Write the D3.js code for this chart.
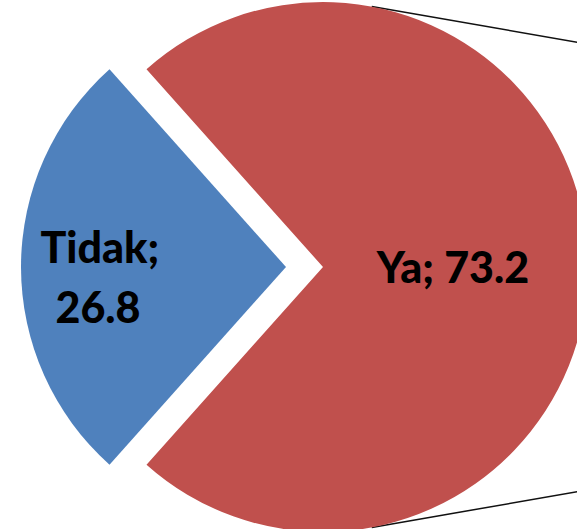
<!DOCTYPE html>
<html>
<head>
<meta charset="utf-8">
<script src="https://cdn.jsdelivr.net/npm/d3@7"></script>
<style>
  body { margin: 0; background: #ffffff; }
  svg { display: block; }
</style>
</head>
<body>
<div id="chart"></div>
<script>
// pie data (percent)
var categories = ["Ya", "Tidak"];
var values = [73.2, 26.8];
var colors = ["#C0504D", "#4F81BD"];

var totalWidth = 577;
var totalHeight = 529;

var cx = 323, cy = 267;
var radius = 265;
var explode = [0, 37];          // blue slice pulled out to the left
var labelRadius = [130, 188];

var svg = d3.select('#chart')
    .append('svg')
        .attr('width', totalWidth)
        .attr('height', totalHeight)
        .attr('style', 'background-color: #ffffff;');

var data = categories.map(function(c, i){ return {name: c, value: values[i], i: i}; });

// blue slice centered on the left side (9 o'clock)
var f = values[1] / d3.sum(values);
var start = -Math.PI / 2 + f * Math.PI;

var pie = d3.pie()
    .sort(null)
    .value(function(d){ return d.value; })
    .startAngle(start)
    .endAngle(start + 2 * Math.PI);

var arc = d3.arc().innerRadius(0).outerRadius(radius);

var arcs = pie(data);

function offset(d, r) {
    var a = (d.startAngle + d.endAngle) / 2;
    return [Math.sin(a) * r, -Math.cos(a) * r];
}

var g = svg.append('g').attr('transform', 'translate(' + cx + ',' + cy + ')');

// connector lines towards the (off-screen) second pie
var lineAngle = 10.6 * Math.PI / 180;
var slope = 0.174;
[1, -1].forEach(function(s){
    var x0 = Math.sin(lineAngle) * radius;
    var y0 = -s * Math.cos(lineAngle) * radius;
    var x1 = 320;
    var y1 = y0 + s * slope * (x1 - x0);
    g.append('line')
        .attr('x1', x0).attr('y1', y0)
        .attr('x2', x1).attr('y2', y1)
        .attr('stroke', '#111111')
        .attr('stroke-width', 1.5);
});

var slices = g.selectAll('g.slice').data(arcs).enter().append('g')
    .attr('class', 'slice')
    .attr('transform', function(d){
        var o = offset(d, explode[d.data.i]);
        return 'translate(' + o[0] + ',' + o[1] + ')';
    });

slices.append('path')
    .attr('d', arc)
    .attr('fill', function(d){ return colors[d.data.i]; });

// labels
slices.each(function(d){
    var o = offset(d, labelRadius[d.data.i]);
    var t = d3.select(this).append('text')
        .attr('text-anchor', 'middle')
        .attr('font-family', 'Lato, "Open Sans", sans-serif')
        .attr('font-weight', '900')
        .attr('font-size', '43px')
        .attr('fill', '#000000');
    if (d.data.i === 0) {
        t.append('tspan')
            .attr('x', o[0]).attr('y', o[1] + 16)
            .text(d.data.name + '; ' + d.data.value.toFixed(1));
    } else {
        t.append('tspan')
            .attr('x', o[0] + 2).attr('y', o[1] - 4)
            .text(d.data.name + ';');
        t.append('tspan')
            .attr('x', o[0]).attr('y', o[1] + 56)
            .text(d.data.value.toFixed(1));
    }
});
</script>
</body>
</html>
